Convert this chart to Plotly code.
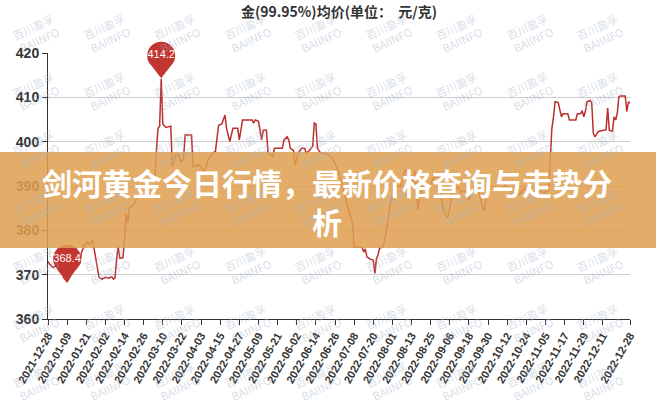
import plotly.graph_objects as go

# ---------------- data ----------------
dates = [
    "2021-12-28", "2021-12-29", "2021-12-31", "2022-01-02", "2022-01-04", "2022-01-06",
    "2022-01-07", "2022-01-09", "2022-01-11", "2022-01-13", "2022-01-15", "2022-01-17",
    "2022-01-18", "2022-01-20", "2022-01-22", "2022-01-23", "2022-01-25", "2022-01-26",
    "2022-01-27", "2022-01-28", "2022-01-29", "2022-01-31", "2022-02-02", "2022-02-04",
    "2022-02-06", "2022-02-07", "2022-02-08", "2022-02-09", "2022-02-10", "2022-02-11",
    "2022-02-13", "2022-02-14", "2022-02-15", "2022-02-16", "2022-02-17", "2022-02-20",
    "2022-02-22", "2022-02-24", "2022-02-27", "2022-03-02", "2022-03-05", "2022-03-06",
    "2022-03-07", "2022-03-08", "2022-03-09", "2022-03-10", "2022-03-12", "2022-03-15",
    "2022-03-16", "2022-03-18", "2022-03-20", "2022-03-21", "2022-03-23", "2022-03-24",
    "2022-03-28", "2022-03-29", "2022-04-02", "2022-04-05", "2022-04-07", "2022-04-10",
    "2022-04-12", "2022-04-14", "2022-04-16", "2022-04-18", "2022-04-19", "2022-04-21",
    "2022-04-23", "2022-04-26", "2022-04-27", "2022-04-29", "2022-05-05", "2022-05-06",
    "2022-05-07", "2022-05-09", "2022-05-10", "2022-05-11", "2022-05-12", "2022-05-14",
    "2022-05-15", "2022-05-18", "2022-05-19", "2022-05-24", "2022-05-25", "2022-05-27",
    "2022-05-28", "2022-05-29", "2022-05-31", "2022-06-01", "2022-06-03", "2022-06-05",
    "2022-06-07", "2022-06-08", "2022-06-10", "2022-06-12", "2022-06-13", "2022-06-14",
    "2022-06-15", "2022-06-17", "2022-06-20", "2022-06-22", "2022-06-24", "2022-06-27",
    "2022-07-01", "2022-07-04", "2022-07-06", "2022-07-07", "2022-07-08", "2022-07-13",
    "2022-07-14", "2022-07-15", "2022-07-16", "2022-07-18", "2022-07-20", "2022-07-21",
    "2022-07-22", "2022-07-23", "2022-07-24", "2022-07-26", "2022-07-27", "2022-07-28",
    "2022-07-29", "2022-07-31", "2022-08-01", "2022-08-02", "2022-08-04", "2022-08-06",
    "2022-08-07", "2022-08-09", "2022-08-11", "2022-08-12", "2022-08-14", "2022-08-15",
    "2022-08-16", "2022-08-17", "2022-08-18", "2022-08-20", "2022-08-23", "2022-08-25",
    "2022-08-27", "2022-08-30", "2022-08-31", "2022-09-02", "2022-09-04", "2022-09-05",
    "2022-09-07", "2022-09-08", "2022-09-11", "2022-09-13", "2022-09-14", "2022-09-17",
    "2022-09-18", "2022-09-19", "2022-09-21", "2022-09-23", "2022-09-25", "2022-09-27",
    "2022-09-28", "2022-09-29", "2022-09-30", "2022-10-03", "2022-10-07", "2022-10-11",
    "2022-10-15", "2022-10-19", "2022-10-23", "2022-10-27", "2022-10-31", "2022-11-04",
    "2022-11-07", "2022-11-08", "2022-11-09", "2022-11-10", "2022-11-11", "2022-11-13",
    "2022-11-14", "2022-11-15", "2022-11-16", "2022-11-19", "2022-11-20", "2022-11-24",
    "2022-11-25", "2022-11-27", "2022-11-28", "2022-11-29", "2022-11-30", "2022-12-01",
    "2022-12-03", "2022-12-04", "2022-12-05", "2022-12-06", "2022-12-08", "2022-12-09",
    "2022-12-11", "2022-12-13", "2022-12-14", "2022-12-15", "2022-12-17", "2022-12-18",
    "2022-12-19", "2022-12-20", "2022-12-21", "2022-12-22", "2022-12-25", "2022-12-26",
    "2022-12-27", "2022-12-28",
]
prices = [
    373.0, 372.4, 371.6, 372.0, 370.8, 370.0,
    369.2, 368.4, 369.6, 371.2, 372.0, 372.6,
    375.0, 376.7, 377.4, 376.8, 377.8, 375.5,
    373.0, 371.0, 369.4, 369.0, 369.4, 369.2,
    369.5, 369.0, 369.3, 373.3, 376.4, 373.7,
    373.8, 378.0, 383.9, 381.7, 385.0, 386.0,
    387.5, 389.0, 390.5, 391.0, 391.5, 398.0,
    403.0, 403.5, 414.2, 404.0, 403.2, 403.5,
    394.3, 397.0, 397.0, 395.5, 396.0, 401.5,
    401.5, 394.3, 394.8, 393.0, 395.5, 397.4,
    397.8, 403.7, 404.0, 406.0, 403.0, 400.0,
    403.0, 403.0, 400.4, 404.9, 404.9, 404.2,
    404.9, 404.6, 402.6, 400.4, 402.6, 402.6,
    397.4, 396.6, 398.5, 398.5, 400.4, 401.1,
    400.4, 398.5, 398.0, 394.7, 397.4, 398.5,
    398.5, 397.4, 398.0, 399.0, 404.2, 404.0,
    398.5, 397.4, 397.4, 397.0, 396.5, 394.3,
    389.8, 385.2, 382.5, 381.6, 376.2, 376.2,
    375.1, 375.8, 374.0, 373.5, 373.3, 370.3,
    373.6, 374.5, 376.0, 376.2, 377.5, 379.4,
    381.6, 386.8, 387.5, 386.8, 390.2, 389.8,
    391.0, 393.6, 393.0, 392.5, 391.0, 393.6,
    388.4, 384.6, 387.5, 390.2, 389.0, 390.6,
    392.0, 392.0, 389.8, 384.6, 383.0, 383.0,
    387.5, 389.0, 389.8, 388.4, 389.0, 388.4,
    386.8, 388.4, 388.8, 389.8, 387.5, 384.6,
    384.6, 388.9, 389.8, 390.0, 389.0, 390.2,
    388.6, 388.0, 389.4, 388.6, 389.0, 388.5,
    389.0, 396.0, 403.0, 405.5, 409.0, 408.8,
    407.0, 405.6, 406.3, 406.3, 404.9, 404.9,
    406.3, 406.3, 407.0, 405.6, 406.8, 409.0,
    409.3, 408.8, 401.9, 401.1, 402.2, 402.4,
    402.5, 402.7, 407.6, 402.6, 402.3, 405.6,
    404.9, 406.3, 410.1, 410.3, 410.3, 406.8,
    409.0, 408.7,
]
x_tick_dates = [
    "2021-12-28", "2022-01-09", "2022-01-21", "2022-02-02", "2022-02-14", "2022-02-26",
    "2022-03-10", "2022-03-22", "2022-04-03", "2022-04-15", "2022-04-27", "2022-05-09",
    "2022-05-21", "2022-06-02", "2022-06-14", "2022-06-26", "2022-07-08", "2022-07-20",
    "2022-08-01", "2022-08-13", "2022-08-25", "2022-09-06", "2022-09-18", "2022-09-30",
    "2022-10-12", "2022-10-24", "2022-11-05", "2022-11-17", "2022-11-29", "2022-12-11",
    "2022-12-28",
]
y_ticks = [360, 370, 380, 390, 400, 410, 420]
title_text = "金(99.95%)均价(单位：  元/克)"
banner_text = "剑河黄金今日行情，最新价格查询与走势分<br>析"
watermark_text = "百川盈孚<br>BAIINFO"

# ---------------- layout constants ----------------
W, H = 656, 400
ML, MR, MT, MB = 48, 26, 53, 81
PLOT_W = W - ML - MR
PLOT_H = H - MT - MB
Y_MIN, Y_MAX = 360, 420
PX_PER_UNIT = PLOT_H / (Y_MAX - Y_MIN)

RED = "#c23531"
LINE_RED = "#bb2f2c"


def px_to_paper_x(px):
    return (px - ML) / PLOT_W


def px_to_paper_y(py):
    return (H - MB - py) / PLOT_H


fig = go.Figure()

fig.add_trace(go.Scatter(
    x=dates, y=prices, mode="lines",
    line=dict(color=LINE_RED, width=1.5),
    hoverinfo="skip", showlegend=False,
))

# mark points (pins) at max / min
i_max = max(range(len(prices)), key=lambda i: prices[i])
i_min = min(range(len(prices)), key=lambda i: prices[i])
for i in (i_max, i_min):
    xv, yv = dates[i], prices[i]
    tri_off = 9 / PX_PER_UNIT
    circ_off = 23 / PX_PER_UNIT
    fig.add_trace(go.Scatter(
        x=[xv], y=[yv + tri_off], mode="markers",
        marker=dict(symbol="triangle-down", size=17, color=RED, line=dict(width=0)),
        hoverinfo="skip", showlegend=False, cliponaxis=False,
    ))
    fig.add_trace(go.Scatter(
        x=[xv], y=[yv + circ_off], mode="markers+text",
        marker=dict(symbol="circle", size=28, color=RED, line=dict(width=0)),
        text=[f"{yv:.1f}"], textposition="middle center",
        textfont=dict(color="white", size=11, family="Liberation Sans"),
        hoverinfo="skip", showlegend=False, cliponaxis=False,
    ))

annotations = []
# watermarks
for r in range(7):
    for c in range(9):
        cx = 36 + 70.5 * c
        cy = 33 + 58 * r
        annotations.append(dict(
            x=px_to_paper_x(cx), y=px_to_paper_y(cy), xref="paper", yref="paper",
            text=watermark_text, showarrow=False, textangle=-25,
            font=dict(size=11, color="rgba(165,180,200,0.45)", family="Noto Sans CJK SC"),
            xanchor="center", yanchor="middle",
        ))

# banner text
annotations.append(dict(
    x=px_to_paper_x(327), y=px_to_paper_y(201), xref="paper", yref="paper",
    text=banner_text, showarrow=False, align="center",
    font=dict(size=30, color="white", family="Noto Sans CJK SC", weight="bold"),
    xanchor="center", yanchor="middle",
))

shapes = [dict(
    type="rect", xref="paper", yref="paper",
    x0=px_to_paper_x(0), x1=px_to_paper_x(W),
    y0=px_to_paper_y(248), y1=px_to_paper_y(152),
    fillcolor="rgba(222,160,80,0.86)", line=dict(width=0), layer="above",
)]

fig.update_layout(
    width=W, height=H,
    margin=dict(l=ML, r=MR, t=MT, b=MB, pad=0),
    paper_bgcolor="white", plot_bgcolor="white",
    title=dict(
        text=title_text, x=0.5, xanchor="center", xref="paper",
        y=1 - 12 / H, yref="container", yanchor="middle",
        font=dict(size=14, color="#333", family="Noto Sans CJK SC", weight="bold"),
    ),
    xaxis=dict(
        type="date", range=[dates[0], dates[-1]],
        tickmode="array", tickvals=x_tick_dates, tickformat="%Y-%m-%d",
        tickangle=-60, ticks="outside", ticklen=5, tickcolor="#333",
        tickfont=dict(size=11, color="#333", family="Liberation Sans", weight="bold"),
        showline=True, linecolor="#333", linewidth=1, showgrid=False, zeroline=False,
    ),
    yaxis=dict(
        range=[Y_MIN, Y_MAX], tickmode="array", tickvals=y_ticks,
        ticks="outside", ticklen=5, tickcolor="#333",
        tickfont=dict(size=14, color="#333", family="Liberation Sans", weight="bold"),
        showline=True, linecolor="#333", linewidth=1,
        showgrid=True, gridcolor="#cccccc", gridwidth=1, zeroline=False,
    ),
    annotations=annotations, shapes=shapes,
    showlegend=False,
)

fig.write_html(
    "out.html",
    config={"displayModeBar": False},
    post_script="document.body.style.margin='0';document.body.style.overflow='hidden';",
)
